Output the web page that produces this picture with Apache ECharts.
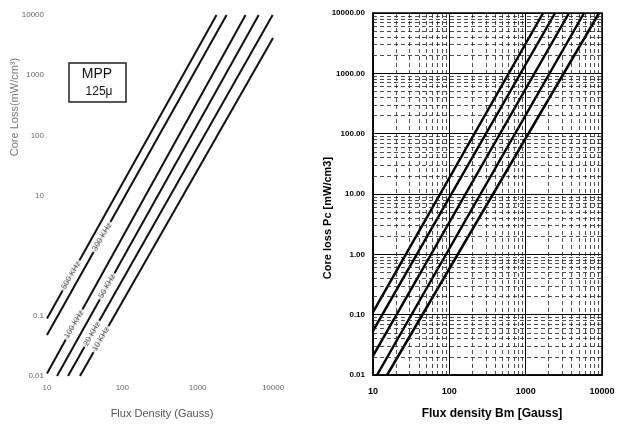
<!DOCTYPE html>
<html><head><meta charset="utf-8">
<script src="https://cdn.jsdelivr.net/npm/echarts@6/dist/echarts.min.js"></script>
<style>html,body{margin:0;padding:0;background:#fff}#c{width:632px;height:424px}</style>
</head><body><div id="c"></div>
<script>
// ---- data ----
const leftFreqLabels = ['500 KHz','300 KHz','100 KHz','50 KHz','20 KHz','10 KHz'];
const leftLineB  = [[10,1780],[10,2420],[10,4320],[13.6,6460],[19,9890],[27.4,10000]];
const leftLinePc = [[0.09,10000],[0.048,10000],[0.011,10000],[0.01,10000],[0.01,10000],[0.01,4150]];
const leftLabelB  = [20.9,53.8,22.9,62.7,39.6,52];
const leftLabelPc = [0.47,2.04,0.072,0.31,0.05,0.041];
const rightLineB  = [[10,1690],[10,2430],[10,3700],[11.3,5820],[15.3,9160]];
const rightLinePc = [[0.11,10000],[0.054,10000],[0.0207,10000],[0.01,10000],[0.01,10000]];
const xTickLabels = ['10','100','1000','10000'];
const leftYTickLabels = {'0.01':'0.01','0.1':'0.1','1':'','10':'10','100':'100','1000':'1000','10000':'10000'};
const rightYTickLabels = ['0.01','0.10','1.00','10.00','100.00','1000.00','10000.00'];
const minorMultipliers = [2,3,4,5,6,7,8,9];

const FONT = '"Liberation Sans", Arial, sans-serif';
const chart = echarts.init(document.getElementById('c'), null, {renderer:'canvas'});

function fmtKey(v){ return String(+v.toPrecision(6)); }

const series = [];
// left lines
leftLineB.forEach((b,i)=>{
  series.push({type:'line', xAxisIndex:0, yAxisIndex:0, symbol:'none', silent:true,
    lineStyle:{color:'#111', width:2}, z:2,
    data: b.map((x,j)=>[x, leftLinePc[i][j]])});
});
// left labels
series.push({type:'scatter', xAxisIndex:0, yAxisIndex:0, symbolSize:0, silent:true, z:5,
  data: leftLabelB.map((x,i)=>({value:[x,leftLabelPc[i]], name:leftFreqLabels[i]})),
  label:{show:true, position:'inside', formatter:p=>p.name, rotate:60, color:'#333',
    fontFamily:FONT, fontSize:8, backgroundColor:'#fff', padding:[0,2]}});
// right lines
rightLineB.forEach((b,i)=>{
  series.push({type:'line', xAxisIndex:1, yAxisIndex:1, symbol:'none', silent:true,
    lineStyle:{color:'#000', width:2.5}, z:4,
    data: b.map((x,j)=>[x, rightLinePc[i][j]])});
});
// right minor grid (dashed) via markLines
const minorX = [], minorY = [];
[10,100,1000].forEach(d=>minorMultipliers.forEach(m=>minorX.push({xAxis:m*d})));
[0.01,0.1,1,10,100,1000].forEach(d=>minorMultipliers.forEach(m=>minorY.push({yAxis:+(m*d).toPrecision(6)})));
series.push({type:'line', xAxisIndex:1, yAxisIndex:1, data:[], silent:true, z:1,
  markLine:{silent:true, symbol:'none', animation:false, label:{show:false},
    lineStyle:{color:'#222', width:0.8, type:[4,3]},
    data: minorX.concat(minorY)}});

chart.setOption({
  animation:false,
  textStyle:{fontFamily:FONT},
  grid:[
    {left:47, right:359, top:15, bottom:48, containLabel:false},
    {left:373, right:30, top:13, bottom:49, show:true, borderColor:'#000', borderWidth:1.5, backgroundColor:'transparent'}
  ],
  xAxis:[
    {type:'log', logBase:10, min:10, max:10000, gridIndex:0,
      axisLine:{show:false}, axisTick:{show:false}, splitLine:{show:false},
      axisLabel:{color:'#666', fontSize:8, margin:8, formatter:v=>xTickLabels[Math.round(Math.log10(v))-1]}},
    {type:'log', logBase:10, min:10, max:10000, gridIndex:1,
      axisLine:{show:true, lineStyle:{color:'#000', width:1.5}}, axisTick:{show:false},
      splitLine:{show:true, lineStyle:{color:'#000', width:1}},
      axisLabel:{color:'#000', fontSize:9, fontWeight:'bold', margin:12, formatter:v=>xTickLabels[Math.round(Math.log10(v))-1]}}
  ],
  yAxis:[
    {type:'log', logBase:10, min:0.01, max:10000, gridIndex:0,
      axisLine:{show:false}, axisTick:{show:false}, splitLine:{show:false},
      axisLabel:{color:'#666', fontSize:8, margin:3, formatter:v=>leftYTickLabels[fmtKey(v)]}},
    {type:'log', logBase:10, min:0.01, max:10000, gridIndex:1,
      axisLine:{show:true, lineStyle:{color:'#000', width:1.5}}, axisTick:{show:false},
      splitLine:{show:true, lineStyle:{color:'#000', width:1}},
      axisLabel:{color:'#000', fontSize:8, fontWeight:'bold', margin:8, formatter:v=>rightYTickLabels[Math.round(Math.log10(v))+2]}}
  ],
  graphic:[
    {type:'rect', shape:{x:69, y:63, width:57, height:39}, style:{fill:'#fff', stroke:'#222', lineWidth:1.5}, z:10},
    {type:'text', x:97, y:74, style:{text:'MPP', font:'14px '+FONT, fill:'#111', textAlign:'center', textVerticalAlign:'middle'}, z:11},
    {type:'text', x:99, y:92, style:{text:'125μ', font:'12px '+FONT, fill:'#111', textAlign:'center', textVerticalAlign:'middle'}, z:11},
    {type:'text', x:15, y:107, rotation:Math.PI/2, style:{text:'Core Loss(mW/cm³)', font:'11px '+FONT, fill:'#777', textAlign:'center', textVerticalAlign:'middle'}},
    {type:'text', x:162, y:414, style:{text:'Flux Density (Gauss)', font:'11px '+FONT, fill:'#555', textAlign:'center', textVerticalAlign:'middle'}},
    {type:'text', x:328, y:218, rotation:Math.PI/2, style:{text:'Core loss Pc [mW/cm3]', font:'bold 11px '+FONT, fill:'#000', textAlign:'center', textVerticalAlign:'middle'}},
    {type:'text', x:492, y:414, style:{text:'Flux density Bm [Gauss]', font:'bold 12px '+FONT, fill:'#000', textAlign:'center', textVerticalAlign:'middle'}}
  ],
  series: series
});
</script></body></html>
